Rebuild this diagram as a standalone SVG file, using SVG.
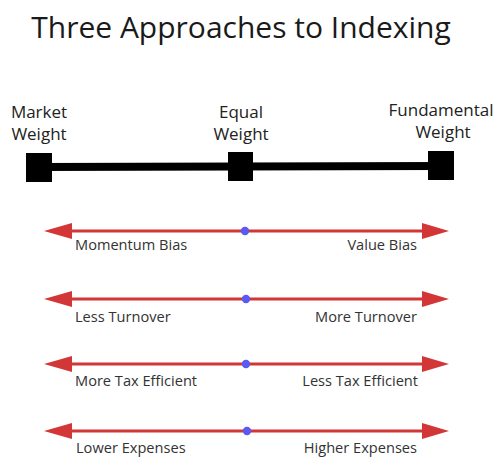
<svg xmlns="http://www.w3.org/2000/svg" width="498" height="459" viewBox="0 0 498 459">
  <style>
    .title { font-family: "Open Sans", "Liberation Sans", sans-serif; font-size: 30px; fill: #1a1a1a; }
    .head { font-family: "Open Sans", "Liberation Sans", sans-serif; font-size: 17px; fill: #222; text-anchor: middle; }
    .lbl { font-family: "Open Sans", "Liberation Sans", sans-serif; font-size: 14.6px; fill: #333; }
    .end { text-anchor: end; }
    .axis { stroke: #d23636; stroke-width: 3; fill: none; }
    .tip { fill: #d23636; }
    .dot { fill: #5a5af0; }
    .node { fill: #000; }
  </style>

  <text class="title" x="241" y="38" text-anchor="middle">Three Approaches to Indexing</text>

  <!-- weighting spectrum -->
  <g id="connectors">
    <line x1="40" y1="167" x2="441" y2="166" stroke="#000" stroke-width="8"/>
  </g>
  <g id="market-weight">
    <rect class="node" x="26" y="153" width="26" height="29"/>
    <text class="head" x="39" y="118">Market</text>
    <text class="head" x="39" y="140">Weight</text>
  </g>
  <g id="equal-weight">
    <rect class="node" x="228" y="152" width="25" height="29"/>
    <text class="head" x="241" y="118">Equal</text>
    <text class="head" x="241" y="140">Weight</text>
  </g>
  <g id="fundamental-weight">
    <rect class="node" x="428" y="151" width="26" height="29"/>
    <text class="head" x="441" y="116">Fundamental</text>
    <text class="head" x="443" y="138">Weight</text>
  </g>

  <!-- trade-off scales -->
  <g id="scale-bias">
    <line class="axis" x1="68" y1="231" x2="426" y2="231"/>
    <polygon class="tip" points="44,231 72,223 72,239"/>
    <polygon class="tip" points="449,231 422,223 422,239"/>
    <circle class="dot" cx="245" cy="231" r="4.2"/>
    <text class="lbl" x="75" y="250">Momentum Bias</text>
    <text class="lbl end" x="417" y="250">Value Bias</text>
  </g>
  <g id="scale-turnover">
    <line class="axis" x1="68" y1="299" x2="426" y2="299"/>
    <polygon class="tip" points="44,299 72,291 72,307"/>
    <polygon class="tip" points="449,299 422,291 422,307"/>
    <circle class="dot" cx="246" cy="299" r="4.2"/>
    <text class="lbl" x="75" y="322">Less Turnover</text>
    <text class="lbl end" x="417" y="322">More Turnover</text>
  </g>
  <g id="scale-tax">
    <line class="axis" x1="68" y1="364" x2="426" y2="364"/>
    <polygon class="tip" points="44,364 72,356 72,372"/>
    <polygon class="tip" points="449,364 422,356 422,372"/>
    <circle class="dot" cx="246" cy="364" r="4.2"/>
    <text class="lbl" x="75" y="386">More Tax Efficient</text>
    <text class="lbl end" x="418" y="386">Less Tax Efficient</text>
  </g>
  <g id="scale-expenses">
    <line class="axis" x1="68" y1="431" x2="426" y2="431"/>
    <polygon class="tip" points="44,431 72,423 72,439"/>
    <polygon class="tip" points="449,431 422,423 422,439"/>
    <circle class="dot" cx="247" cy="431" r="4.2"/>
    <text class="lbl" x="76" y="453">Lower Expenses</text>
    <text class="lbl end" x="417" y="453">Higher Expenses</text>
  </g>
</svg>
